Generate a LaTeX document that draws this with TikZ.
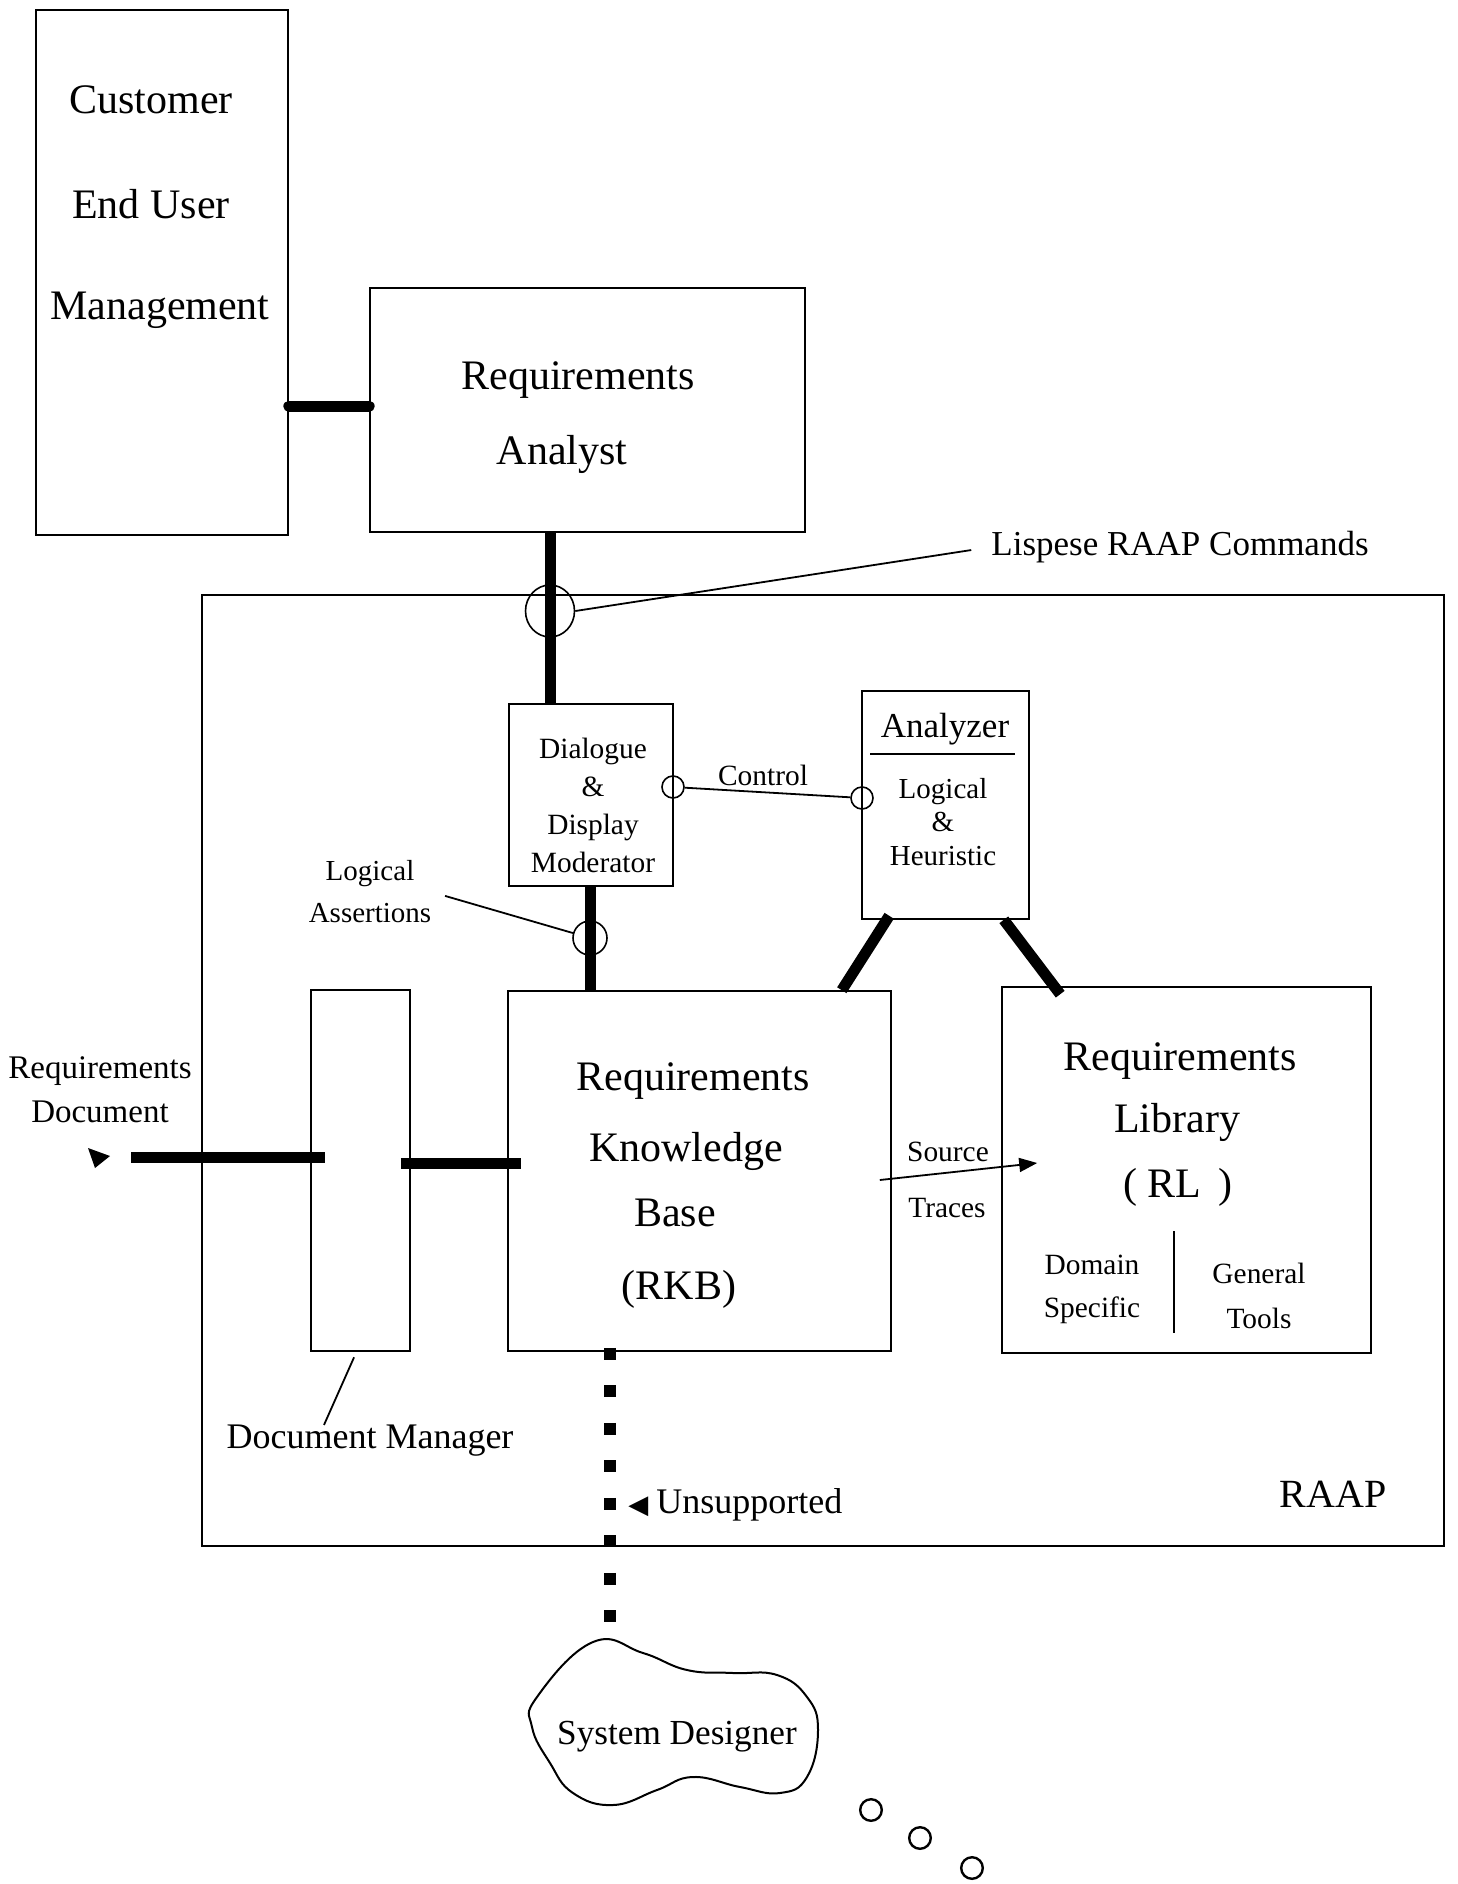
\documentclass[tikz,border=0pt]{standalone}
\usepackage{fontspec}
\setmainfont{Liberation Serif}
\newfontfamily\symfont{DejaVu Sans}
\usetikzlibrary{arrows.meta,shapes.geometric}

\begin{document}
\begin{tikzpicture}[x=0.5pt,y=-0.5pt,
  box/.style={draw,line width=0.8pt,inner sep=0pt},
  bus/.style={line width=5.5pt},
  wire/.style={line width=0.9pt},
  ring/.style={draw,circle,line width=0.8pt,inner sep=0pt},
  bigtxt/.style={font=\fontsize{21}{25}\selectfont,inner sep=0pt},
  midtxt/.style={font=\fontsize{17.5}{21}\selectfont,inner sep=0pt},
  smltxt/.style={font=\fontsize{14.7}{19}\selectfont,inner sep=0pt}]
\useasboundingbox (0,0) rectangle (1457,1884);

\node[box,minimum width=126pt,minimum height=262.5pt] (cust) at (162,272.5) {};
\node[bigtxt] (custA) at (151,100) {Customer};
\node[bigtxt] (custB) at (151,204) {End User};
\node[bigtxt] (custC) at (160,310) {Management};

\node[box,minimum width=217.5pt,minimum height=122pt] (ra) at (587.5,410) {};
\node[bigtxt] (raA) at (578,380) {Requirements};
\node[bigtxt] (raB) at (562,454) {Analyst};

\node[box,minimum width=621pt,minimum height=475.5pt] (raap) at (823,1070.5) {};
\node[font=\fontsize{20}{24}\selectfont,inner sep=0pt] (raapT) at (1333,1494) {RAAP};

\node[box,minimum width=82pt,minimum height=91pt] (dlg) at (591,795) {};
\node[smltxt,align=center] (dlgT) at (593,805) {Dialogue\\\&\\Display\\Moderator};

\node[box,minimum width=83.5pt,minimum height=114pt] (ana) at (945.5,805) {};
\node[midtxt] (anaT) at (945,729) {Analyzer};
\draw[wire] (870,754) -- (1015,754);
\node[font=\fontsize{14.5}{16.8}\selectfont,inner sep=0pt,align=center] (anaB) at (943,822) {Logical\\\&\\Heuristic};

\node[box,minimum width=191.5pt,minimum height=180pt] (rkb) at (699.5,1171) {};
\node[bigtxt] (rkbA) at (693,1081) {Requirements};
\node[bigtxt] (rkbB) at (686,1151) {Knowledge};
\node[bigtxt] (rkbC) at (675,1213) {Base};
\node[bigtxt] (rkbD) at (679,1289) {(RKB)};

\node[box,minimum width=49.5pt,minimum height=180.5pt] (dm) at (360.5,1170.5) {};
\node[font=\fontsize{18}{22}\selectfont,inner sep=0pt] (dmT) at (370,1441) {Document Manager};
\draw[wire,shorten <=3pt] ([xshift=-2pt]dm.south) -- ([xshift=-23pt]dmT.north);

\node[box,minimum width=184.5pt,minimum height=183pt] (rl) at (1186.5,1170) {};
\node[bigtxt] (rlA) at (1180,1061) {Requirements};
\node[bigtxt] (rlB) at (1177,1122) {Library};
\node[bigtxt] (rlC) at (1178,1187) {( RL\, )};
\draw[wire] (1174,1231) -- (1174,1333);
\node[font=\fontsize{14.7}{21.5}\selectfont,inner sep=0pt,align=center] (rlD) at (1092,1289) {Domain\\Specific};
\node[font=\fontsize{14.7}{22.5}\selectfont,inner sep=0pt,align=center] (rlE) at (1259,1296) {General\\Tools};

\draw[bus,line cap=round] (cust.east |- 0,406) -- (ra.west |- 0,406);

\node[draw,ellipse,line width=0.8pt,inner sep=0pt,minimum width=24.5pt,minimum height=26pt] (lisp) at (550,611) {};
\draw[bus] (ra.south -| lisp) -- (dlg.north -| lisp);
\node[midtxt,anchor=west] (lispT) at (991,547) {Lispese RAAP Commands};
\draw[wire,shorten >=10pt] (lisp.east) -- (lispT.west);

\node[ring,minimum size=11pt] (ctlA) at (673,787) {};
\node[ring,minimum size=11pt] (ctlB) at (862,798) {};
\draw[wire] (ctlA) -- (ctlB);
\node[smltxt] (ctlT) at (763,775) {Control};

\node[ring,minimum size=17pt] (la) at (590,938) {};
\draw[bus] (dlg.south -| la) -- (rkb.north -| la);
\node[font=\fontsize{14.5}{21}\selectfont,inner sep=0pt,align=center] (laT) at (370,892) {Logical\\Assertions};
\draw[wire,shorten <=7pt] (laT.east) -- (la);

\draw[bus] ([xshift=14pt,yshift=2pt]ana.south west) -- ([xshift=-25pt]rkb.north east);
\draw[bus] ([xshift=-13pt]ana.south east) -- ([xshift=29.5pt,yshift=-4pt]rl.north west);

\node[font=\fontsize{16.5}{22}\selectfont,inner sep=0pt,align=center] (rdT) at (100,1090) {Requirements\\Document};
\coordinate (rdin) at (131,1157);
\fill (88,1148) -- (110,1156) -- (95,1168) -- cycle;
\draw[bus] (rdin) -- ([xshift=7.5pt,yshift=6.75pt]dm.west);
\draw[bus] ([xshift=-5pt,yshift=3.75pt]dm.east) -- ([xshift=7pt,yshift=4pt]rkb.west);

\draw[wire,-{Triangle[length=9pt,width=7pt]}] ([xshift=-6pt,yshift=-4.5pt]rkb.east) -- ([xshift=18pt,yshift=3.5pt]rl.west);
\node[smltxt] (srcT) at (948,1152) {Source};
\node[smltxt] (trcT) at (947,1208) {Traces};

\node[font=\fontsize{17.6}{21}\selectfont,inner sep=0pt] (sd) at (677,1737) {System Designer};
\draw[line width=1pt] plot[smooth cycle,tension=0.75] coordinates {(532,1727) (537,1697) (593,1642) (643,1653) (687,1670) (733,1673) (777,1675) (807,1697) (818,1730) (807,1777) (780,1793) (740,1787) (693,1777) (657,1790) (613,1805) (573,1793) (550,1763)};
\coordinate (sdtop) at (610,1622);
\draw[line width=6pt,dash pattern=on 6pt off 12.75pt] ([yshift=2pt]rkb.south -| 610,0) -- (sdtop);
\node[font=\fontsize{18}{22}\selectfont,inner sep=0pt,anchor=west] (uns) at (628,1505) {{\symfont\fontsize{13}{13}\selectfont ◀}\kern4pt Unsupported};

\foreach \bx/\by in {871/1810,920/1838,972/1868}
  \draw[line width=1.2pt] (\bx,\by) circle[radius=5.4pt];
\end{tikzpicture}
\end{document}
